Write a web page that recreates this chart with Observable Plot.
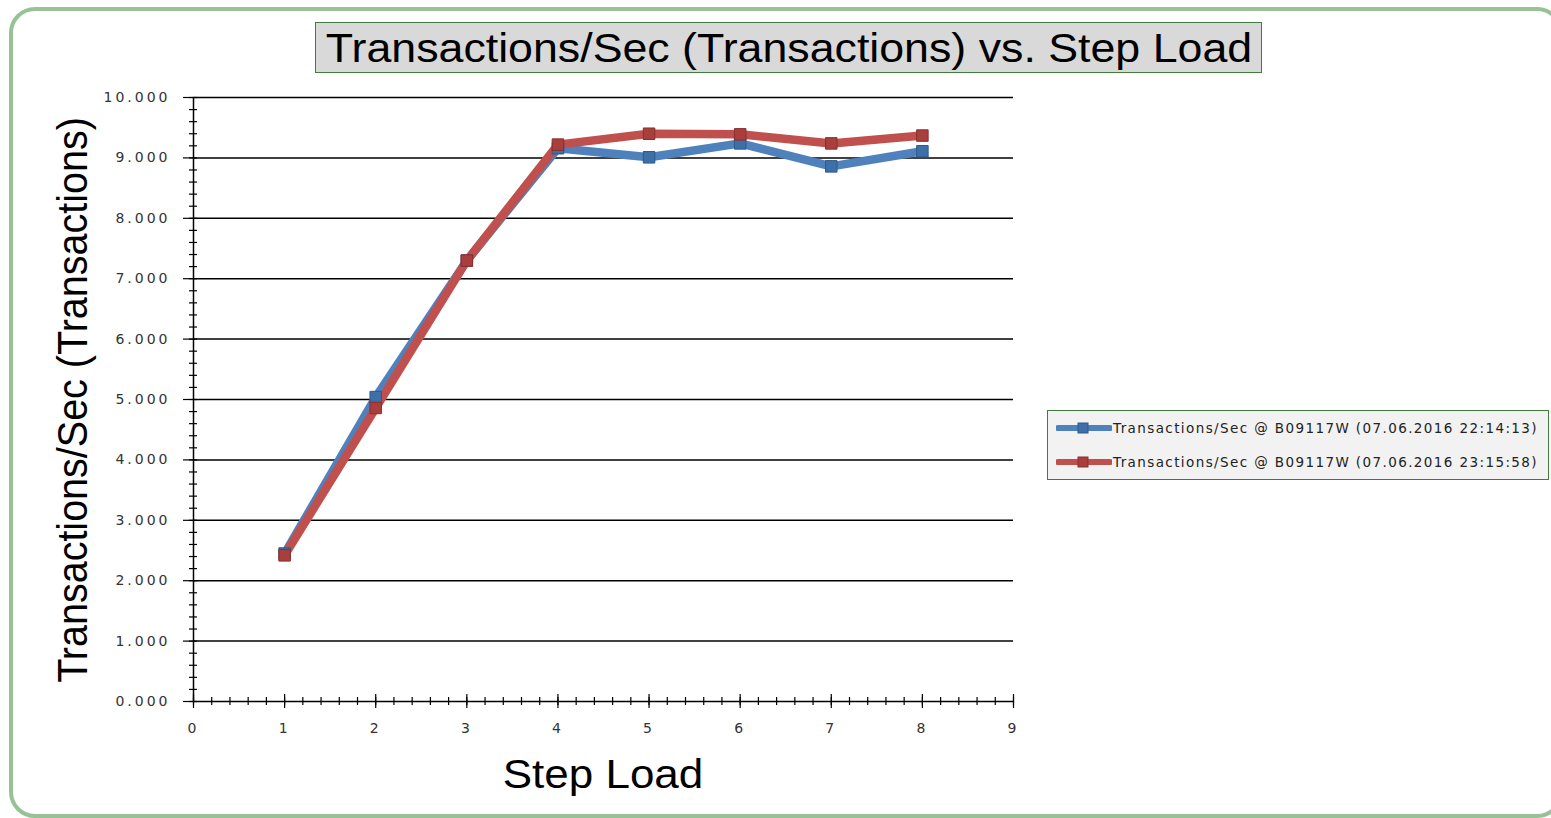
<!DOCTYPE html>
<html>
<head>
<meta charset="utf-8">
<script src="https://cdn.jsdelivr.net/npm/d3@7"></script>
<script src="https://cdn.jsdelivr.net/npm/@observablehq/plot@0.6"></script>
<style>
  html, body { margin: 0; padding: 0; background: #fff; }
  #wrap { position: relative; width: 1551px; height: 818px; overflow: hidden; font-family: "Liberation Sans", Arial, sans-serif; }
  #frame { position: absolute; left: 9px; top: 7px; width: 1546px; height: 803px; border: 4px solid #98c295; border-radius: 26px; }
  #chart { position: absolute; left: 0; top: 0; }
  #title { position: absolute; left: 315px; top: 22px; width: 945px; height: 49px; background: #d9d9d9; border: 1.5px solid #3f7d3f; }
  #title span { position: absolute; left: 50%; top: 5px; line-height: 40px; font-size: 40px; white-space: nowrap; transform: translateX(-50%) scaleX(1.118); color: #000; }
  #xlabel { position: absolute; left: 603px; top: 754px; line-height: 40px; font-size: 40px; white-space: nowrap; transform: translateX(-50%) scaleX(1.1); color: #000; }
  #ylabel { position: absolute; left: 72px; top: 400px; line-height: 40px; font-size: 39.5px; white-space: nowrap; transform: translate(-50%, -50%) rotate(-90deg) scaleY(1.1); color: #000; }
  #legend { position: absolute; left: 1047px; top: 410px; width: 500px; height: 68px; background: #f2f2f2; border: 1px solid #3f7d3f; font-family: "DejaVu Sans", sans-serif; font-size: 13.5px; letter-spacing: 1.4px; color: #222; }
  .row { position: absolute; left: 8px; height: 20px; display: flex; align-items: center; white-space: nowrap; }
  .row svg { margin-right: 1px; }
</style>
</head>
<body>
<div id="wrap">
  <div id="frame"></div>
  <div id="chart"></div>
  <div id="title"><span>Transactions/Sec (Transactions) vs. Step Load</span></div>
  <div id="ylabel">Transactions/Sec (Transactions)</div>
  <div id="xlabel">Step Load</div>
  <div id="legend"></div>
</div>
<script>
// ---- data ----
const steps = [1, 2, 3, 4, 5, 6, 7, 8];
const seriesNames = [
  "Transactions/Sec @ B09117W (07.06.2016 22:14:13)",
  "Transactions/Sec @ B09117W (07.06.2016 23:15:58)"
];
const run1Values = [2.45, 5.04, 7.30, 9.16, 9.01, 9.24, 8.86, 9.11];
const run2Values = [2.42, 4.86, 7.30, 9.22, 9.40, 9.39, 9.24, 9.37];
const yTicks = [0, 1, 2, 3, 4, 5, 6, 7, 8, 9, 10];
const xTicks = [0, 1, 2, 3, 4, 5, 6, 7, 8, 9];
const seriesColors = ["#4f81bd", "#c0504d"];
const markerColors = ["#3d6fa8", "#a83f3c"];

const rows = [];
steps.forEach((s, i) => rows.push({step: s, value: run1Values[i], series: seriesNames[0]}));
steps.forEach((s, i) => rows.push({step: s, value: run2Values[i], series: seriesNames[1]}));

const yMinor = d3.range(0, 10.0001, 0.2);
const xMinor = d3.range(0, 9.0001, 0.2);

const chart = Plot.plot({
  width: 1551,
  height: 818,
  marginLeft: 193,
  marginRight: 538,
  marginTop: 97,
  marginBottom: 117,
  style: {background: "transparent", fontFamily: "DejaVu Sans, sans-serif", fontSize: "14px", color: "#333"},
  x: {domain: [0, 9], label: null},
  y: {domain: [0, 10], label: null},
  color: {domain: seriesNames, range: seriesColors},
  marks: [
    Plot.ruleY(yTicks.filter(d => d > 0), {stroke: "#000", strokeWidth: 1.5}),
    Plot.ruleX([0], {stroke: "#000", strokeWidth: 1.5}),
    Plot.ruleY([0], {stroke: "#000", strokeWidth: 1.5}),
    // y minor ticks (crossing the axis)
    Plot.axisY({ticks: yMinor, tickSize: 8, dx: 4, text: null, label: null, stroke: "#000", strokeWidth: 1.2}),
    // y major ticks and labels
    Plot.axisY({ticks: yTicks, tickSize: 10, tickPadding: 13, tickFormat: d3.format(".3f"), label: null, stroke: "#000", strokeWidth: 1.2, fill: "#333", fontSize: 14}),
    // x minor ticks
    Plot.axisX({ticks: xMinor, tickSize: 8, dy: -4, text: null, label: null, stroke: "#000", strokeWidth: 1.2}),
    // x major ticks
    Plot.axisX({ticks: xTicks, tickSize: 14, dy: -7, text: null, label: null, stroke: "#000", strokeWidth: 1.2}),
    // x labels
    Plot.axisX({ticks: xTicks, tickSize: 0, tickPadding: 22, tickFormat: d3.format("d"), label: null, fill: "#333", fontSize: 14}),
    Plot.line(rows, {x: "step", y: "value", z: "series", stroke: "series", strokeWidth: 8.5, strokeLinejoin: "round", strokeLinecap: "round"}),
    Plot.dot(rows, {x: "step", y: "value", symbol: "square", r: 6.5,
      fill: d => d.series === seriesNames[0] ? markerColors[0] : markerColors[1],
      stroke: d => d.series === seriesNames[0] ? "#2f5a8c" : "#8a2f2c", strokeWidth: 1})
  ]
});
chart.querySelectorAll("text").forEach(t => t.setAttribute("letter-spacing", "3"));
document.getElementById("chart").appendChild(chart);

// legend
const legend = document.getElementById("legend");
seriesNames.forEach((name, i) => {
  const row = document.createElement("div");
  row.className = "row";
  row.style.top = (7 + i * 34) + "px";
  row.innerHTML = `<svg width="56" height="20"><line x1="2" y1="10" x2="54" y2="10" stroke="${seriesColors[i]}" stroke-width="6" stroke-linecap="round"/><rect x="22" y="5" width="10" height="10" fill="${markerColors[i]}" stroke="${i ? '#8a2f2c' : '#2f5a8c'}" stroke-width="1"/></svg><span>${name}</span>`;
  legend.appendChild(row);
});
</script>
</body>
</html>
